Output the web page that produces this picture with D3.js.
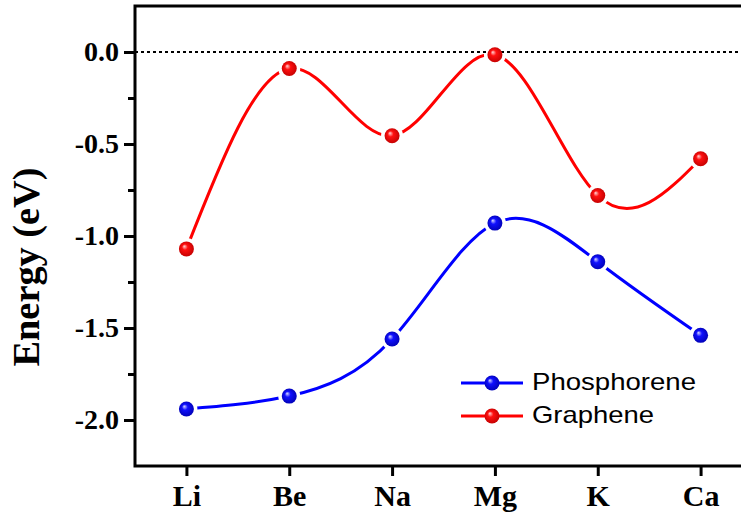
<!DOCTYPE html>
<html>
<head>
<meta charset="utf-8">
<script src="https://cdn.jsdelivr.net/npm/d3@7"></script>
<style>
  html, body { margin: 0; padding: 0; background: #fff; }
  svg { display: block; }
</style>
</head>
<body>
<script>
// DATA
var metals = ['Li', 'Be', 'Na', 'Mg', 'K', 'Ca'];
var phosphorene = [-1.94, -1.87, -1.56, -0.93, -1.14, -1.54];
var graphene = [-1.07, -0.09, -0.455, -0.015, -0.78, -0.58];
var yTicks = [0.0, -0.5, -1.0, -1.5, -2.0];
var yMinorTicks = [-0.25, -0.75, -1.25, -1.75];
var seriesNames = ['Phosphorene', 'Graphene'];

// SETTINGS
var W = 741, H = 515;
var plot = { left: 135, right: 752, top: 6, bottom: 466 };
var colors = { Phosphorene: '#0000ff', Graphene: '#ff0000' };

var svg = d3.select('body').append('svg')
   .attr('width', W)
   .attr('height', H);

var defs = svg.append('defs');

// SPHERE GRADIENTS
function sphere(id, light, base, dark) {
   var g = defs.append('radialGradient')
      .attr('id', id)
      .attr('cx', '50%').attr('cy', '50%').attr('r', '55%')
      .attr('fx', '35%').attr('fy', '32%');
   g.append('stop').attr('offset', '0%').attr('stop-color', light);
   g.append('stop').attr('offset', '35%').attr('stop-color', base);
   g.append('stop').attr('offset', '100%').attr('stop-color', dark);
}
sphere('g-Phosphorene', '#d8d8ff', '#1010ff', '#0000b0');
sphere('g-Graphene', '#ffd8d8', '#ff1010', '#c00000');

// SCALES
var x = d3.scaleLinear().domain([0.5, 6.5]).range([plot.left, plot.right]);
var y = d3.scaleLinear().domain([-2.25, 0.25]).range([plot.bottom, plot.top]);

var serif = '"Liberation Serif", "Times New Roman", serif';
var sans = '"Liberation Sans", Arial, sans-serif';

// CURVES
var line = d3.line()
   .x(function (d, i) { return x(i + 1); })
   .y(function (d) { return y(d); })
   .curve(d3.curveNatural);

var series = [
   { name: 'Phosphorene', values: phosphorene },
   { name: 'Graphene', values: graphene }
];

series.forEach(function (s) {
   svg.append('path')
      .attr('d', line(s.values))
      .attr('fill', 'none')
      .attr('stroke', colors[s.name])
      .attr('stroke-width', 3);
});

// WHITE GAPS AROUND SYMBOLS
series.forEach(function (s) {
   svg.selectAll(null).data(s.values).enter().append('circle')
      .attr('cx', function (d, i) { return x(i + 1); })
      .attr('cy', function (d) { return y(d); })
      .attr('r', 11)
      .attr('fill', '#fff');
});

// ZERO REFERENCE LINE
svg.append('line')
   .attr('x1', plot.left).attr('x2', plot.right)
   .attr('y1', y(0)).attr('y2', y(0))
   .attr('stroke', '#000')
   .attr('stroke-width', 2)
   .attr('stroke-dasharray', '3,3');

// SYMBOLS
series.forEach(function (s) {
   svg.selectAll(null).data(s.values).enter().append('circle')
      .attr('cx', function (d, i) { return x(i + 1); })
      .attr('cy', function (d) { return y(d); })
      .attr('r', 7.5)
      .attr('fill', 'url(#g-' + s.name + ')');
});

// FRAME
svg.append('rect')
   .attr('x', plot.left).attr('y', plot.top)
   .attr('width', plot.right - plot.left)
   .attr('height', plot.bottom - plot.top)
   .attr('fill', 'none')
   .attr('stroke', '#000')
   .attr('stroke-width', 3);

// Y AXIS
var yAxis = svg.append('g')
   .attr('transform', 'translate(' + plot.left + ',0)')
   .call(d3.axisLeft(y).tickValues(yTicks).tickSize(11).tickPadding(5)
      .tickFormat(d3.format('.1f')));
yAxis.select('.domain').remove();
yAxis.selectAll('line').attr('stroke', '#000').attr('stroke-width', 3);
yAxis.selectAll('text')
   .attr('fill', '#000')
   .style('font-family', serif)
   .style('font-weight', 'bold')
   .style('font-size', '28px')
   .text(function (d) { return d3.format('.1f')(d).replace('\u2212', '-'); });

var yMinor = svg.append('g')
   .attr('transform', 'translate(' + plot.left + ',0)')
   .call(d3.axisLeft(y).tickValues(yMinorTicks).tickSize(7).tickFormat(''));
yMinor.select('.domain').remove();
yMinor.selectAll('line').attr('stroke', '#000').attr('stroke-width', 3);

// X AXIS
var xAxis = svg.append('g')
   .attr('transform', 'translate(0,' + plot.bottom + ')')
   .call(d3.axisBottom(x).tickValues(d3.range(1, metals.length + 1)).tickSize(10).tickPadding(9)
      .tickFormat(function (d) { return metals[d - 1]; }));
xAxis.select('.domain').remove();
xAxis.selectAll('line').attr('stroke', '#000').attr('stroke-width', 3);
xAxis.selectAll('text')
   .attr('fill', '#000')
   .style('font-family', serif)
   .style('font-weight', 'bold')
   .style('font-size', '30px');

// Y TITLE
svg.append('text')
   .attr('transform', 'translate(39,267) rotate(-90)')
   .attr('text-anchor', 'middle')
   .attr('textLength', 199)
   .attr('lengthAdjust', 'spacingAndGlyphs')
   .style('font-family', serif)
   .style('font-weight', 'bold')
   .style('font-size', '37px')
   .text('Energy (eV)');

// LEGEND
var legendRows = [383, 416];
var legendWidths = [164, 122];
seriesNames.forEach(function (name, i) {
   var g = svg.append('g').attr('transform', 'translate(0,' + legendRows[i] + ')');
   g.append('line')
      .attr('x1', 461).attr('x2', 523)
      .attr('stroke', colors[name])
      .attr('stroke-width', 3);
   g.append('circle')
      .attr('cx', 492).attr('r', 7.5)
      .attr('fill', 'url(#g-' + name + ')');
   g.append('text')
      .attr('x', 532).attr('y', 7)
      .attr('textLength', legendWidths[i])
      .attr('lengthAdjust', 'spacingAndGlyphs')
      .style('font-family', sans)
      .style('font-size', '24px')
      .text(name);
});
</script>
</body>
</html>
